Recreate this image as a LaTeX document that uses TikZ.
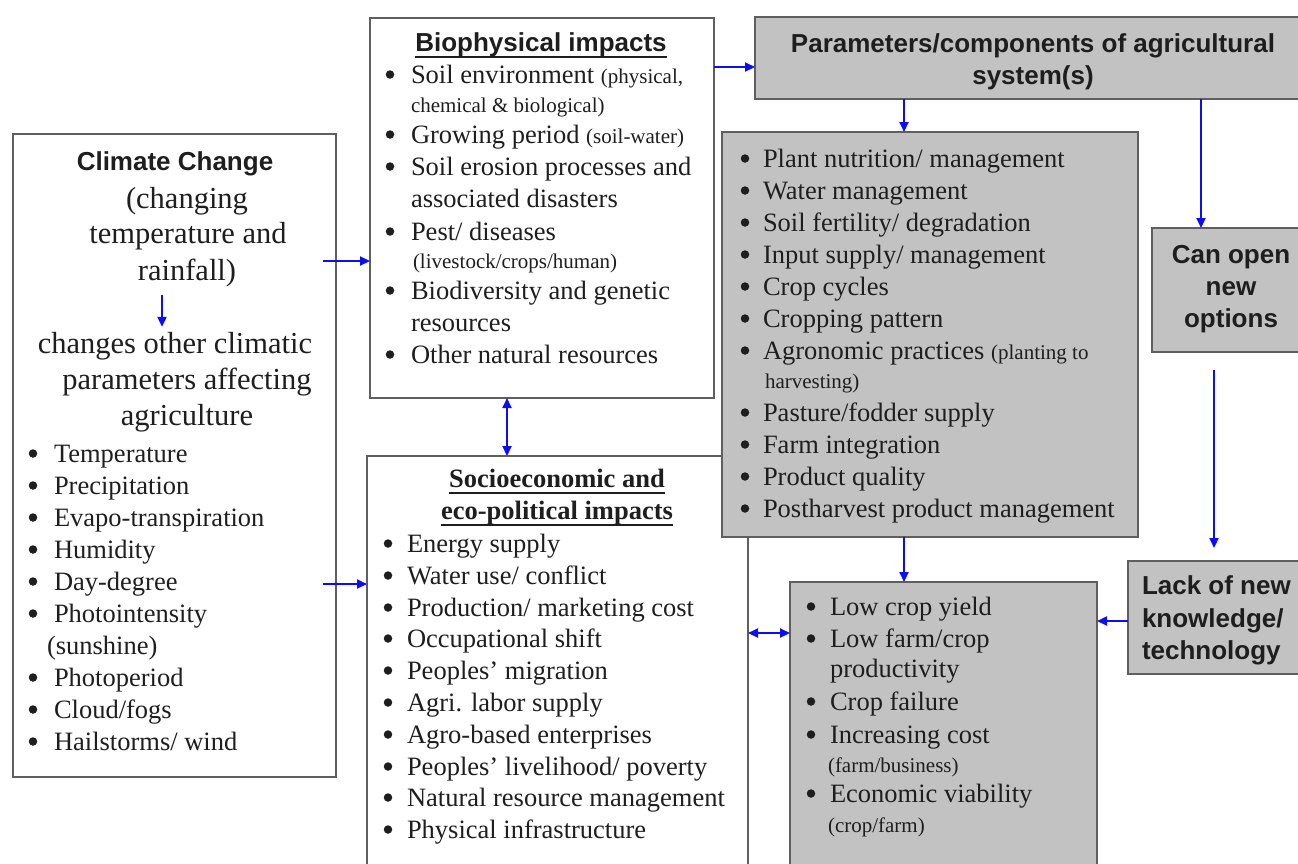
\documentclass[tikz,border=0pt]{standalone}
\usepackage{fontspec}
\setmainfont{Liberation Serif}
\setsansfont{Liberation Sans}
\usetikzlibrary{arrows.meta}
\definecolor{boxgray}{RGB}{194,194,194}
\definecolor{edge}{RGB}{95,95,95}
\definecolor{ink}{RGB}{30,30,30}
\definecolor{arrowblue}{RGB}{12,12,245}
\tikzset{
  frame/.style={draw=edge, line width=1.6pt, inner sep=0pt, outer sep=0pt, anchor=north west},
  greybox/.style={frame, fill=boxgray},
  txt/.style={inner sep=0pt, outer sep=0pt, text=ink, font=\fontsize{26.5}{32}\selectfont},
  dot/.style={circle, fill=ink, inner sep=0pt, outer sep=0pt, minimum size=8.5pt},
  hd/.style={txt, font=\fontsize{26}{32}\selectfont\sffamily\bfseries},
  shd/.style={txt, font=\fontsize{26.5}{32}\selectfont\bfseries},
  big/.style={txt, font=\fontsize{30.5}{36}\selectfont},
  uline/.style={draw=ink, line width=1.8pt},
  flow/.style={draw=arrowblue, line width=2pt, -{Triangle[length=10pt,width=9pt]}},
  flowtwo/.style={draw=arrowblue, line width=2pt, {Triangle[length=10pt,width=9pt]}-{Triangle[length=10pt,width=9pt]}},
}
\newcommand{\sm}[1]{{\fontsize{21}{24}\selectfont #1}}
% name, bullet centre x, text x, baseline y, text
\newcommand{\bitem}[5]{%
  \node[dot] (#1b) at (#2,#4-8.5) {};
  \node[txt,anchor=base west] (#1) at (#3,#4) {#5};}
\newcommand{\cont}[4]{\node[txt,anchor=base west] (#1) at (#2,#3) {#4};}
\begin{document}
\begin{tikzpicture}[x=1pt,y=-1pt]
\path[use as bounding box, fill=white] (0,0) rectangle (1298,863);
\clip (0,0) rectangle (1298,863);

% ---------- boxes ----------
\node[frame, minimum width=323pt, minimum height=643pt] (climate) at (13,134) {};
\node[frame, minimum width=344pt, minimum height=380pt] (bio) at (370,18) {};
\node[frame, minimum width=381pt, minimum height=450pt] (socio) at (367,456) {};
\node[greybox, minimum width=560pt, minimum height=82pt] (param) at (755,17) {};
\node[greybox, minimum width=416pt, minimum height=405pt] (plist) at (722,132) {};
\node[greybox, minimum width=160pt, minimum height=124pt] (canopen) at (1152,228) {};
\node[greybox, minimum width=185pt, minimum height=113pt] (lack) at (1128,561) {};
\node[greybox, minimum width=307pt, minimum height=320pt] (low) at (790,582) {};

% ---------- climate box ----------
\node[hd, anchor=base] (ccT) at (175,170) {Climate Change};
\node[big, anchor=base] (cc1) at (187,208) {(changing};
\node[big, anchor=base] (cc2) at (188,243) {temperature and};
\node[big, anchor=base] (cc3) at (187,280) {rainfall)};
\node[big, anchor=base] (cc4) at (175,353) {changes other climatic};
\node[big, anchor=base] (cc5) at (187,389) {parameters affecting};
\node[big, anchor=base] (cc6) at (187,425) {agriculture};
\bitem{c1}{33}{54}{462}{Temperature}
\bitem{c2}{33}{54}{494}{Precipitation}
\bitem{c3}{33}{54}{526}{Evapo-transpiration}
\bitem{c4}{33}{54}{558}{Humidity}
\bitem{c5}{33}{54}{590}{Day-degree}
\bitem{c6}{33}{54}{622}{Photointensity}
\cont{c6a}{47}{654}{(sunshine)}
\bitem{c7}{33}{54}{686}{Photoperiod}
\bitem{c8}{33}{54}{718}{Cloud/fogs}
\bitem{c9}{33}{54}{750}{Hailstorms/ wind}

% ---------- biophysical ----------
\node[hd, anchor=base] (bioT) at (541,51) {Biophysical impacts};
\draw[uline] ([yshift=-6pt]bioT.base west) -- ([yshift=-6pt]bioT.base east);
\bitem{b1}{390}{411}{83}{Soil environment \sm{(physical,}}
\cont{b1a}{411}{112}{\sm{chemical \& biological)}}
\bitem{b2}{390}{411}{143}{Growing period \sm{(soil-water)}}
\bitem{b3}{390}{411}{175}{Soil erosion processes and}
\cont{b3a}{411}{207}{associated disasters}
\bitem{b4}{390}{411}{240}{Pest/ diseases}
\cont{b4a}{413}{268}{\sm{(livestock/crops/human)}}
\bitem{b5}{390}{411}{299}{Biodiversity and genetic}
\cont{b5a}{411}{331}{resources}
\bitem{b6}{390}{411}{363}{Other natural resources}

% ---------- socioeconomic ----------
\node[shd, anchor=base] (soT1) at (557,487) {Socioeconomic and};
\node[shd, anchor=base] (soT2) at (557,519) {eco-political impacts};
\draw[uline] ([yshift=-6pt]soT1.base west) -- ([yshift=-6pt]soT1.base east);
\draw[uline] ([yshift=-6pt]soT2.base west) -- ([yshift=-6pt]soT2.base east);
\bitem{s1}{388}{407}{552}{Energy supply}
\bitem{s2}{388}{407}{584}{Water use/ conflict}
\bitem{s3}{388}{407}{616}{Production/ marketing cost}
\bitem{s4}{388}{407}{647}{Occupational shift}
\bitem{s5}{388}{407}{679}{Peoples’ migration}
\bitem{s6}{388}{407}{711}{Agri. labor supply}
\bitem{s7}{388}{407}{743}{Agro-based enterprises}
\bitem{s8}{388}{407}{775}{Peoples’ livelihood/ poverty}
\bitem{s9}{388}{407}{806}{Natural resource management}
\bitem{s10}{388}{407}{838}{Physical infrastructure}

% ---------- parameters ----------
\node[hd, anchor=base] (pT1) at (1033,52) {Parameters/components of agricultural};
\node[hd, anchor=base] (pT2) at (1033,84) {system(s)};

% ---------- parameter list ----------
\bitem{p1}{745}{763}{167}{Plant nutrition/ management}
\bitem{p2}{745}{763}{199}{Water management}
\bitem{p3}{745}{763}{231}{Soil fertility/ degradation}
\bitem{p4}{745}{763}{263}{Input supply/ management}
\bitem{p5}{745}{763}{295}{Crop cycles}
\bitem{p6}{745}{763}{327}{Cropping pattern}
\bitem{p7}{745}{763}{359}{Agronomic practices \sm{(planting to}}
\cont{p7a}{765}{388}{\sm{harvesting)}}
\bitem{p8}{745}{763}{421}{Pasture/fodder supply}
\bitem{p9}{745}{763}{453}{Farm integration}
\bitem{p10}{745}{763}{485}{Product quality}
\bitem{p11}{745}{763}{517}{Postharvest product management}

% ---------- can open ----------
\node[hd, anchor=base] (co1) at (1231,263) {Can open};
\node[hd, anchor=base] (co2) at (1231,295) {new};
\node[hd, anchor=base] (co3) at (1231,327) {options};

% ---------- lack ----------
\node[hd, anchor=base west] (lk1) at (1142,594) {Lack of new};
\node[hd, anchor=base west] (lk2) at (1142,627) {knowledge/};
\node[hd, anchor=base west] (lk3) at (1142,659) {technology};

% ---------- consequences ----------
\bitem{l1}{811}{830}{615}{Low crop yield}
\bitem{l2}{811}{830}{647}{Low farm/crop}
\cont{l2a}{830}{677}{productivity}
\bitem{l3}{811}{830}{710}{Crop failure}
\bitem{l4}{811}{830}{743}{Increasing cost}
\cont{l4a}{828}{772}{\sm{(farm/business)}}
\bitem{l5}{811}{830}{802}{Economic viability}
\cont{l5a}{828}{832}{\sm{(crop/farm)}}

% ---------- connectors ----------
\coordinate (ca) at (162,0);
\draw[flow, shorten <=8pt, shorten >=5pt] (cc3.south -| ca) -- (cc4.north -| ca);
\coordinate (h261) at (0,261);
\draw[flow, shorten <=-13pt] (climate.east |- h261) -- (bio.west |- h261);
\coordinate (h584) at (0,584);
\draw[flow, shorten <=-13pt] (climate.east |- h584) -- (socio.west |- h584);
\coordinate (h67) at (0,67);
\draw[flow] (bio.east |- h67) -- (param.west |- h67);
\coordinate (v507) at (507,0);
\draw[flowtwo] (bio.south -| v507) -- (socio.north -| v507);
\coordinate (v904) at (904,0);
\draw[flow] (param.south -| v904) -- (plist.north -| v904);
\draw[flow] (plist.south -| v904) -- (low.north -| v904);
\coordinate (v1201) at (1201,0);
\draw[flow] (param.south -| v1201) -- (canopen.north -| v1201);
\coordinate (v1214) at (1214,0);
\draw[flow, shorten <=18pt, shorten >=13pt] (canopen.south -| v1214) -- (lack.north -| v1214);
\coordinate (h621) at (0,621);
\draw[flow] (lack.west |- h621) -- (low.east |- h621);
\coordinate (h633) at (0,633);
\draw[flowtwo] (socio.east |- h633) -- (low.west |- h633);
\end{tikzpicture}
\end{document}
